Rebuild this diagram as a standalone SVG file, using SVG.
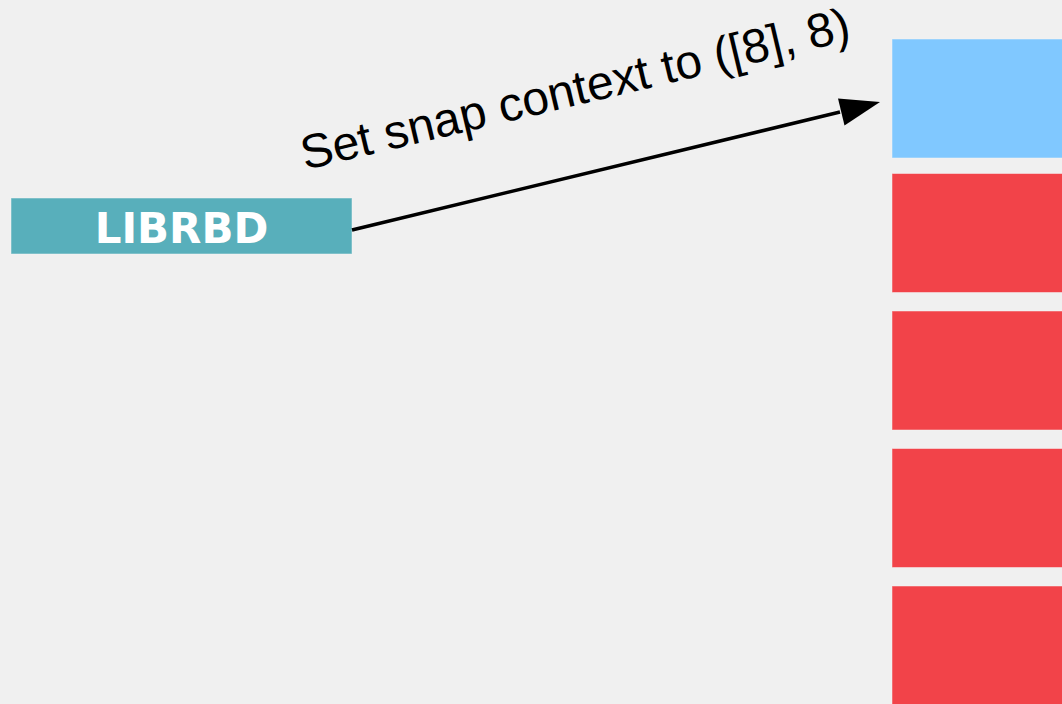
<svg xmlns="http://www.w3.org/2000/svg" width="1062" height="704" viewBox="0 0 1062 704">
  <style>
    .label { font-family: "DejaVu Sans", Verdana, sans-serif; font-weight: bold; fill: #ffffff; }
    .edge-label { font-family: "Liberation Sans", Arial, sans-serif; fill: #000000; }
    .slot { stroke: #f6f6f6; stroke-opacity: 0.5; stroke-width: 1; }
  </style>
  <rect width="1062" height="704" fill="#f0f0f0"/>

  <g id="librbd">
    <rect x="11" y="198" width="341" height="56" fill="#58afbb" class="slot"/>
    <text x="181.5" y="243" text-anchor="middle" font-size="42" class="label">LIBRBD</text>
  </g>

  <g id="snap-stack">
    <rect id="slot-head" x="892" y="39" width="172" height="119" fill="#80c8ff" class="slot"/>
    <rect id="slot-1" x="892" y="173.5" width="172" height="119" fill="#f24349" class="slot"/>
    <rect id="slot-2" x="892" y="311" width="172" height="119" fill="#f24349" class="slot"/>
    <rect id="slot-3" x="892" y="448.5" width="172" height="119" fill="#f24349" class="slot"/>
    <rect id="slot-4" x="892" y="586" width="172" height="130" fill="#f24349" class="slot"/>
  </g>

  <g id="connectors">
    <line x1="352" y1="230" x2="840" y2="112" stroke="#000" stroke-width="3.5"/>
    <path d="M880,102 L844.5,125.5 L838,98.5 Z" fill="#000"/>
    <text x="305" y="170" font-size="48" class="edge-label" transform="rotate(-13.4 305 170)">Set snap context to ([8], 8)</text>
  </g>
</svg>
